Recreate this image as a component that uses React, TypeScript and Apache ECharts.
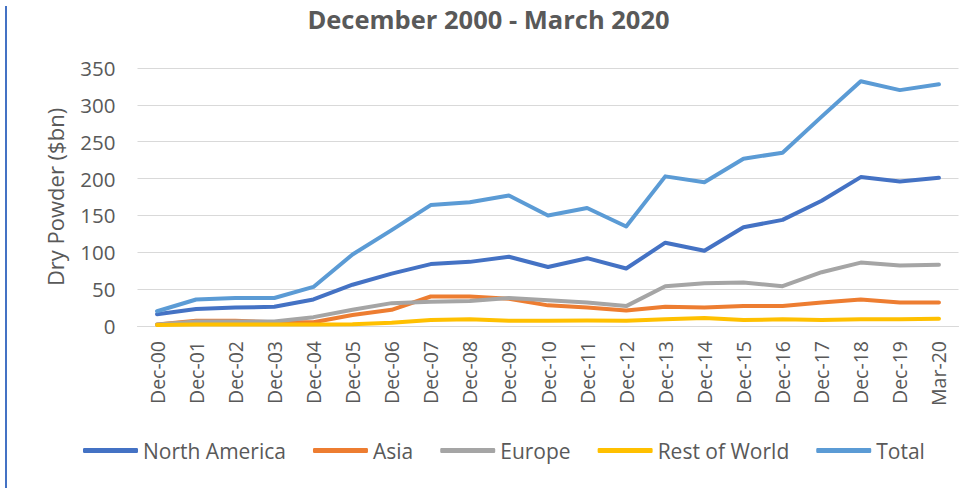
import React, { useEffect, useRef } from "react";
import * as echarts from "echarts";

const categories = ["Dec-00","Dec-01","Dec-02","Dec-03","Dec-04","Dec-05","Dec-06","Dec-07","Dec-08","Dec-09","Dec-10","Dec-11","Dec-12","Dec-13","Dec-14","Dec-15","Dec-16","Dec-17","Dec-18","Dec-19","Mar-20"];
const northAmerica = [16, 23, 25, 26, 36, 56, 71, 84, 87, 94, 80, 92, 78, 113, 102, 134, 144, 170, 202, 196, 201];
const asia = [2, 7, 7, 5, 5, 15, 22, 40, 40, 37, 28, 25, 21, 26, 25, 27, 27, 32, 36, 32, 32];
const europe = [2, 6, 6, 6, 12, 22, 31, 33, 34, 38, 35, 32, 27, 54, 58, 59, 54, 73, 86, 82, 83];
const restOfWorld = [1.5, 2, 2, 2, 2, 2.5, 4.5, 8, 9, 7, 7, 7.5, 7, 9, 11, 8, 9, 8, 9, 9, 10];
const total = [20, 36, 38, 38, 53, 97, 130, 164, 168, 177, 150, 160, 135, 203, 195, 227, 235, 284, 332, 320, 328];
const yTicks = { min: 0, max: 350, interval: 50 };

const seriesDefs = [
  { name: "North America", data: northAmerica, color: "#4472C4" },
  { name: "Asia", data: asia, color: "#ED7D31" },
  { name: "Europe", data: europe, color: "#A5A5A5" },
  { name: "Rest of World", data: restOfWorld, color: "#FFC000" },
  { name: "Total", data: total, color: "#5B9BD5" },
];

const FONT = "Open Sans";
const TXT = "#595959";

export default function App() {
  const ref = useRef<HTMLDivElement>(null);
  useEffect(() => {
    if (!ref.current) return;
    const chart = echarts.init(ref.current, undefined, { renderer: "svg" });
    chart.setOption({
      animation: false,
      backgroundColor: "#ffffff",
      title: {
        text: "December 2000 - March 2020",
        left: "center",
        top: 1,
        textStyle: { fontFamily: FONT, fontSize: 25.5, fontWeight: "bold", color: TXT },
      },
      grid: { left: 137.5, right: 18.5, top: 68, bottom: 162, containLabel: false },
      legend: {
        bottom: 22,
        left: 78,
        itemWidth: 55,
        itemHeight: 5,
        itemGap: 27,
        icon: "roundRect",
        textStyle: { fontFamily: FONT, fontSize: 21, color: TXT },
        data: seriesDefs.map((s) => s.name),
      },
      xAxis: {
        type: "category",
        data: categories,
        boundaryGap: true,
        axisTick: { show: false },
        axisLine: { lineStyle: { color: "#D9D9D9", width: 1 } },
        axisLabel: { rotate: 90, fontFamily: FONT, fontSize: 19.5, color: TXT, margin: 15, interval: 0 },
      },
      yAxis: {
        type: "value",
        min: yTicks.min,
        max: yTicks.max,
        interval: yTicks.interval,
        name: "Dry Powder ($bn)",
        nameLocation: "middle",
        nameGap: 72,
        nameTextStyle: { fontFamily: FONT, fontSize: 22, color: TXT },
        axisLine: { show: false },
        axisTick: { show: false },
        axisLabel: { fontFamily: FONT, fontSize: 20.5, color: TXT, margin: 22 },
        splitLine: { lineStyle: { color: "#D9D9D9", width: 1 } },
      },
      graphic: [
        {
          type: "line",
          shape: { x1: 6, y1: 6, x2: 6, y2: 488 },
          style: { stroke: "#4472C4", lineWidth: 2 },
        },
      ],
      series: seriesDefs.map((s) => ({
        name: s.name,
        type: "line",
        data: s.data,
        symbol: "none",
        smooth: false,
        color: s.color,
        lineStyle: { color: s.color, width: 4, cap: "round", join: "round" },
      })),
    });
    return () => chart.dispose();
  }, []);
  return (
    <div
      ref={ref}
      style={{ position: "fixed", left: 0, top: 0, width: 977, height: 488, background: "#fff" }}
    />
  );
}
